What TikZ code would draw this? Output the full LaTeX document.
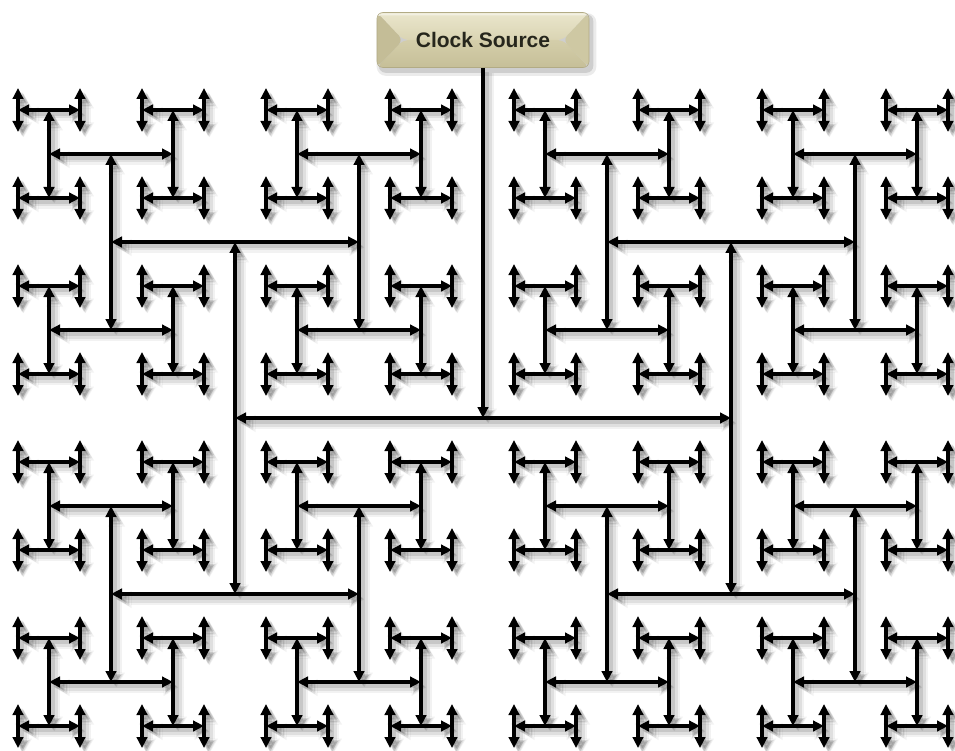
\documentclass[tikz,border=0pt]{standalone}
\usepackage{fontspec}
\newfontfamily\labelfont{Liberation Sans}
\usetikzlibrary{arrows.meta}
\pgfdeclarelayer{bg}
\pgfsetlayers{bg,main}
\definecolor{bxTopA}{HTML}{EAE6CC}
\definecolor{bxTopB}{HTML}{DAD4B3}
\definecolor{bxBotA}{HTML}{D4CEAA}
\definecolor{bxBotB}{HTML}{C6BF98}
\definecolor{bxLeft}{HTML}{C4BD97}
\definecolor{bxRight}{HTML}{CEC8A3}
\definecolor{bxEdge}{HTML}{B2AB85}
\definecolor{bxText}{HTML}{26261C}
\expandafter\def\csname hlen1\endcsname{248}
\expandafter\def\csname hlen2\endcsname{176}
\expandafter\def\csname hlen3\endcsname{124}
\expandafter\def\csname hlen4\endcsname{88}
\expandafter\def\csname hlen5\endcsname{62}
\expandafter\def\csname hlen6\endcsname{44}
\expandafter\def\csname hlen7\endcsname{31}
\expandafter\def\csname hlen8\endcsname{22}
\newcommand\hbranch[3]{%
  \ifnum#2<9\relax
    \edef\hblen{\csname hlen#2\endcsname}%
    \ifodd#2\relax
      \coordinate (#1a) at ([xshift=-\hblen pt]#1);
      \coordinate (#1b) at ([xshift=\hblen pt]#1);
    \else
      \coordinate (#1a) at ([yshift=\hblen pt]#1);
      \coordinate (#1b) at ([yshift=-\hblen pt]#1);
    \fi
    \draw[#3] (#1) -- (#1a);
    \draw[#3] (#1) -- (#1b);
    \edef\hbnext{\noexpand\hbranch{#1a}{\the\numexpr#2+1\relax}{\unexpanded{#3}}\noexpand\hbranch{#1b}{\the\numexpr#2+1\relax}{\unexpanded{#3}}}%
    \hbnext
  \fi}
\tikzset{
  wire/.style={line width=3.8pt, black, -{Triangle[length=11pt,width=10.5pt]}},
  shA/.style={line width=11pt, black, opacity=0.05, -{Triangle[length=15pt,width=16pt]}},
  shB/.style={line width=7pt, black, opacity=0.08, -{Triangle[length=13pt,width=13pt]}},
  shC/.style={line width=4pt, black, opacity=0.11, -{Triangle[length=11pt,width=11pt]}},
  srcbox/.style={rounded corners=6pt, minimum width=212pt, minimum height=55pt,
    inner sep=0pt, draw=bxEdge, line width=0.6pt, text=bxText,
    font=\labelfont\bfseries\fontsize{21}{25}\selectfont,
    path picture={
      \coordinate (pnw) at (path picture bounding box.north west);
      \coordinate (pne) at (path picture bounding box.north east);
      \coordinate (psw) at (path picture bounding box.south west);
      \coordinate (pse) at (path picture bounding box.south east);
      \coordinate (pl) at ([xshift=26pt]path picture bounding box.west);
      \coordinate (pr) at ([xshift=-26pt]path picture bounding box.east);
      \shade[top color=bxTopA, bottom color=bxTopB] (pnw) -- (pne) -- (pr) -- (pl) -- cycle;
      \shade[top color=bxBotA, bottom color=bxBotB] (psw) -- (pse) -- (pr) -- (pl) -- cycle;
      \fill[bxLeft] (pnw) -- (pl) -- (psw) -- cycle;
      \fill[bxRight] (pne) -- (pr) -- (pse) -- cycle;
      \fill[white, opacity=0.45] ([yshift=-1pt]pnw) rectangle ([yshift=-3pt]pne);
    }}
}
\begin{document}
\begin{tikzpicture}[x=1pt,y=-1pt]
\useasboundingbox (0,0) rectangle (955,751);
\coordinate (c) at (483,418);
\node[srcbox] (src) at (483,40) {Clock Source};
\begin{pgfonlayer}{bg}
  \begin{scope}[transform canvas={shift={(5.5pt,-5.5pt)}}]
    \draw[shA] (src.south) -- (c);
    \hbranch{c}{1}{shA}
  \end{scope}
  \begin{scope}[transform canvas={shift={(5pt,-5pt)}}]
    \draw[shB] (src.south) -- (c);
    \hbranch{c}{1}{shB}
  \end{scope}
  \begin{scope}[transform canvas={shift={(4pt,-4pt)}}]
    \draw[shC] (src.south) -- (c);
    \hbranch{c}{1}{shC}
  \end{scope}
  \fill[black, opacity=0.08, rounded corners=9pt] ([shift={(0pt,-1pt)}]src.north west) rectangle ([shift={(7pt,-8pt)}]src.south east);
  \fill[black, opacity=0.12, rounded corners=7pt] ([shift={(2pt,-2pt)}]src.north west) rectangle ([shift={(4pt,-5pt)}]src.south east);
\end{pgfonlayer}
\draw[wire] (src.south) -- (c);
\hbranch{c}{1}{wire}
\end{tikzpicture}
\end{document}
